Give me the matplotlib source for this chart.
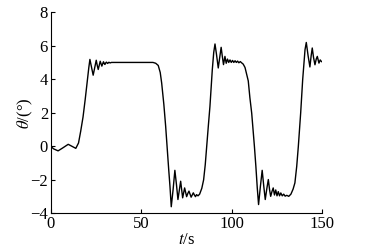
import matplotlib
matplotlib.use("Agg")
import matplotlib.pyplot as plt

# values (t in s, theta in degrees)
t = [0, 1.5, 4.0, 6.5, 9.6, 12.0, 13.8, 15.3, 16.5, 17.8, 19.0, 20.0, 21.0, 21.6,
     22.5, 23.4, 24.3, 25.1, 25.7, 26.2, 26.8, 27.3, 27.8, 28.2, 28.7, 29.1, 29.5,
     29.9, 30.3, 30.7, 31.1, 31.4, 31.8, 32.1, 32.5, 32.8, 33.5, 56.5, 58.0, 59.4,
     60.5, 61.3, 62.5, 63.5, 64.4, 65.2, 65.9, 66.6, 67.6, 68.6, 69.5, 70.3, 71.1,
     71.8, 72.4, 72.9, 73.5, 74.0, 74.6, 75.1, 75.8, 76.4, 77.0, 77.6, 78.2, 78.8,
     79.4, 80.0, 80.6, 81.4, 82.3, 83.5, 84.5, 85.4, 86.2, 87.1, 88.0, 89.3, 90.1,
     90.8, 91.6, 92.6, 93.4, 94.2, 94.8, 95.5, 96.3, 97.0, 97.7, 98.4, 99.1, 99.8,
     100.5, 101.2, 101.9, 102.6, 103.3, 104.0, 104.8, 105.5, 106.4, 107.4, 108.3,
     109.2, 110.1, 111.1, 112.0, 112.6, 113.4, 114.2, 114.9, 115.9, 116.9, 117.8,
     118.6, 119.5, 120.3, 121.0, 121.6, 122.3, 123.0, 123.7, 124.4, 125.1, 125.8,
     126.5, 127.2, 128.0, 128.8, 129.6, 130.5, 131.6, 132.8, 134.0, 135.0, 136.0,
     136.9, 138.2, 139.3, 140.6, 141.3, 142.3, 143.3, 144.0, 144.6, 145.3, 146.1,
     146.8, 147.4, 148.3, 149.0, 149.7]
theta = [0.0, -0.15, -0.27, -0.1, 0.12, -0.02, -0.12, 0.2, 0.9, 1.75, 2.8, 3.74, 4.7, 5.18,
         4.7, 4.24, 4.7, 5.13, 4.8, 4.58, 4.85, 5.07, 4.9, 4.78, 4.92, 5.04, 4.95,
         4.88, 4.96, 5.02, 4.97, 4.94, 4.98, 5.01, 4.99, 4.97, 5.0, 5.0, 4.95, 4.82,
         4.4, 3.77, 2.5, 1.2, -0.2, -1.4, -2.4, -3.6, -2.6, -1.43, -2.3, -3.17, -2.6,
         -2.08, -2.6, -3.07, -2.75, -2.48, -2.75, -3.0, -2.8, -2.67, -2.85, -3.03, -2.9, -2.77,
         -2.9, -3.0, -2.88, -2.95, -2.85, -2.5, -2.0, -1.1, 0.0, 1.2, 2.38, 4.56, 5.6,
         6.1, 5.5, 4.67, 5.3, 5.9, 5.4, 4.87, 5.36, 4.95, 5.2, 5.0, 5.15, 5.0,
         5.12, 5.0, 5.1, 5.0, 5.08, 4.98, 5.05, 4.98, 4.9, 4.7, 4.3,
         3.9, 2.9, 1.98, 0.8, 0.0, -1.18, -2.5, -3.47, -2.4, -1.43, -2.4,
         -3.17, -2.5, -1.98, -2.6, -2.98, -2.7, -2.48, -2.9, -2.6, -2.95, -2.7,
         -2.95, -2.78, -2.95, -2.85, -2.97, -2.92, -2.98, -2.85, -2.55, -2.18, -1.2,
         0.0, 2.0, 3.97, 5.76, 6.19, 5.4, 4.73, 5.4, 5.86, 5.3, 4.86,
         5.2, 5.36, 4.96, 5.15, 5.05]

x_ticks = [0, 50, 100, 150]
y_ticks = [-4, -2, 0, 2, 4, 6, 8]

plt.rcParams['font.family'] = ['Liberation Serif', 'DejaVu Serif']
plt.rcParams['mathtext.fontset'] = 'stix'

fig = plt.figure(figsize=(3.74, 2.52), dpi=100)
ax = fig.add_axes([0.136, 0.153, 0.725, 0.799])

ax.plot(t, theta, color="black", linewidth=1.0)

ax.set_xlim(0, 150)
ax.set_ylim(-4, 8)
ax.set_xticks(x_ticks)
ax.set_yticks(y_ticks)
ax.tick_params(direction="in", length=3, width=0.8, labelsize=12, pad=2)
for side in ["top", "right"]:
    ax.spines[side].set_visible(False)
for side in ["left", "bottom"]:
    ax.spines[side].set_linewidth(0.8)

ax.set_xlabel("$t$/s", fontsize=12, labelpad=0)
ax.set_ylabel(r"$\theta$/(°)", fontsize=12, labelpad=-3)

fig.savefig("out.png", dpi=100)
